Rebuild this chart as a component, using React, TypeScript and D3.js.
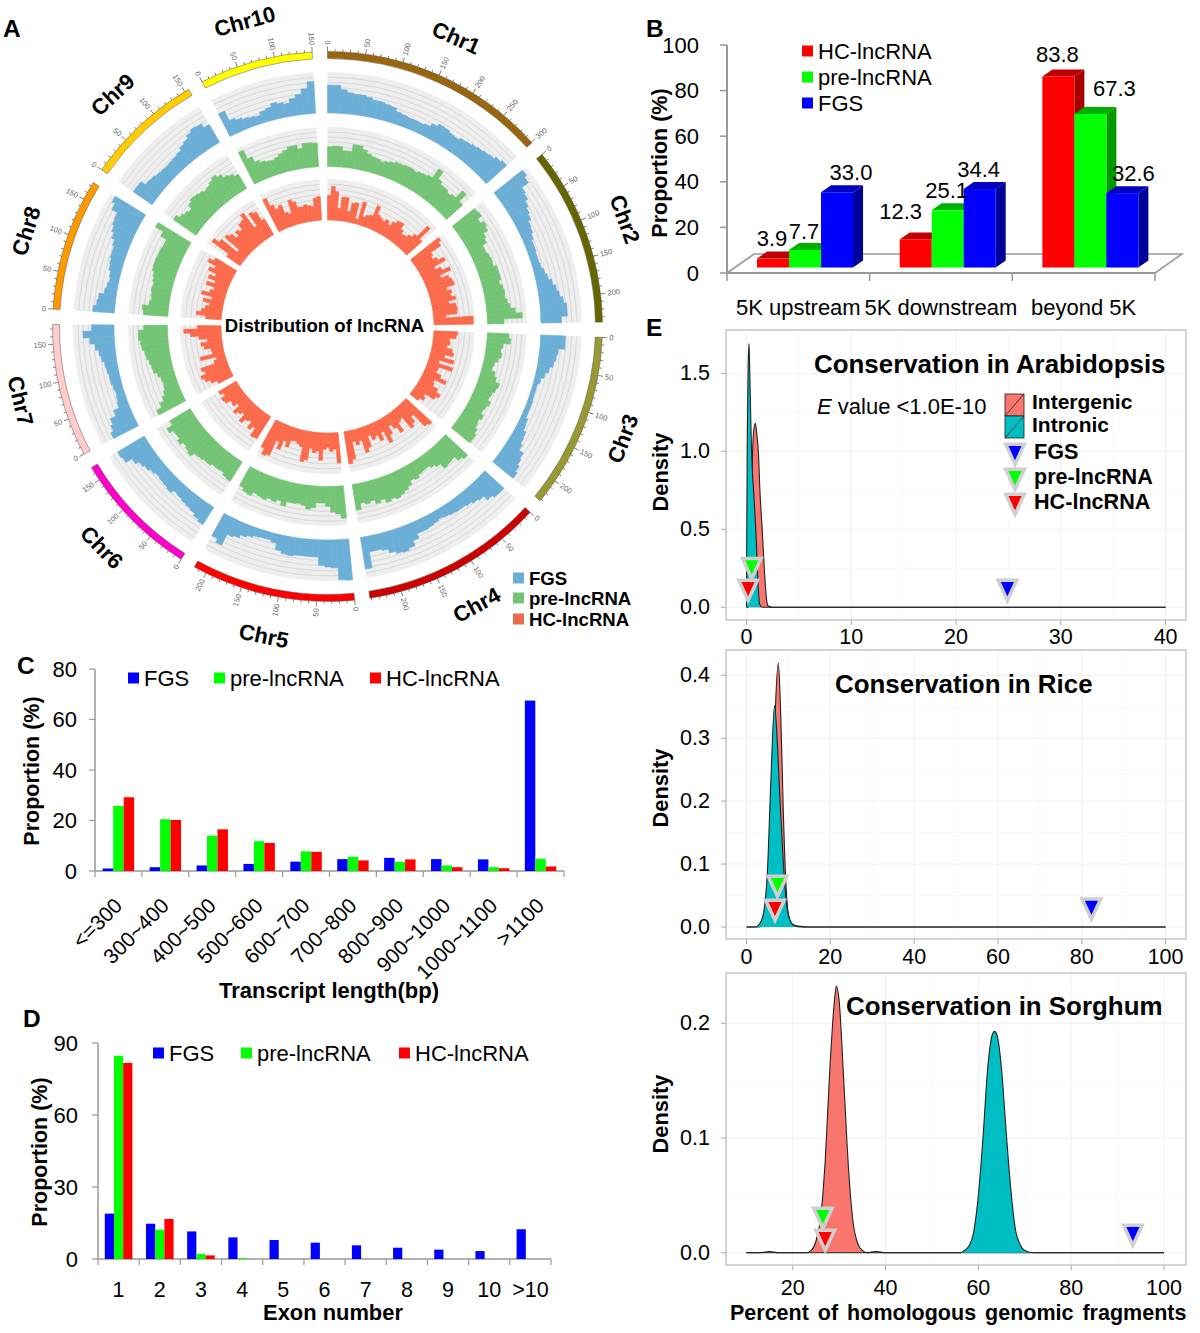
import { arc, area, curveMonotoneX, line, range, scaleBand, scaleLinear, sum, symbol, symbolTriangle } from 'd3'

const FONT = '"Liberation Sans", Arial, sans-serif'

// panel A, circos
const chrNames = ['Chr1', 'Chr2', 'Chr3', 'Chr4', 'Chr5', 'Chr6', 'Chr7', 'Chr8', 'Chr9', 'Chr10']
const chrLengths = [301, 237, 232, 242, 217, 169, 176, 175, 156, 150]
const chrColors = ['#99660f', '#666600', '#999933', '#cc0000', '#ff0000', '#ff00cc', '#ffcccc', '#ff9900', '#ffcc00', '#ffff00']

const fgsBins = [
  [.68, .68, .58, .52, .5, .5, .47, .43, .43, .40, .38, .3, .28, .26, .26, .25, .28, .36, .43, .42, .38, .36, .42, .44, .47, .5, .53, .56, .62, .67],
  [.89, .82, .62, .58, .5, .44, .4, .32, .3, .25, .2, .2, .18, .18, .2, .25, .3, .38, .45, .5, .58, .65, .65, .5],
  [.6, .6, .45, .42, .38, .3, .22, .15, .1, .1, .1, .12, .12, .12, .18, .2, .28, .3, .35, .48, .52, .58, .64],
  [.63, .62, .55, .42, .38, .33, .3, .3, .28, .25, .22, .25, .28, .3, .3, .42, .55, .6, .58, .52, .42, .38, .38, .78],
  [1.0, .98, .68, .66, .62, .42, .42, .42, .42, .45, .44, .38, .22, .18, .18, .2, .25, .3, .38, .42, .72, .62],
  [.5, .45, .38, .35, .33, .3, .28, .36, .33, .32, .3, .34, .4, .45, .55, .72, .76],
  [.68, .6, .55, .4, .25, .22, .2, .22, .25, .25, .28, .3, .36, .4, .48, .6, .76, .55],
  [.53, .45, .42, .3, .26, .22, .25, .3, .32, .35, .35, .4, .48, .55, .6, .62, .78, .86],
  [.56, .55, .42, .4, .36, .34, .33, .34, .35, .38, .45, .5, .58, .64, .62, .5],
  [.62, .35, .3, .25, .22, .2, .28, .32, .4, .36, .32, .42, .5, .62, .78],
]
const preBins = [
  [.5, .52, .52, .42, .42, .6, .6, .52, .44, .4, .38, .34, .38, .42, .46, .46, .48, .48, .46, .5, .52, .56, .84, .62, .55, .55, .5, .55, .8, .55],
  [.72, .75, .62, .72, .68, .55, .5, .38, .38, .42, .44, .42, .5, .5, .5, .44, .5, .52, .5, .55, .6, .72, .89, .42],
  [.55, .6, .42, .38, .42, .35, .28, .25, .35, .42, .54, .5, .45, .42, .5, .45, .42, .5, .45, .48, .55, .6, .6],
  [.76, .7, .56, .58, .6, .45, .38, .32, .33, .35, .42, .38, .48, .55, .6, .65, .6, .65, .55, .6, .5, .55, .5, .66],
  [.82, .7, .65, .5, .42, .42, .55, .6, .52, .48, .5, .5, .62, .52, .58, .55, .6, .58, .55, .65, .62, .55],
  [.58, .55, .48, .5, .5, .55, .55, .58, .6, .72, .68, .64, .72, .65, .66, .77, .6],
  [.77, .62, .5, .42, .36, .34, .36, .42, .5, .52, .55, .6, .62, .68, .7, .74, .74, .6],
  [.62, .66, .5, .46, .48, .5, .48, .52, .55, .6, .62, .62, .6, .6, .58, .58, .75, .98],
  [.7, .6, .55, .5, .62, .68, .66, .62, .58, .6, .66, .72, .65, .55, .5, .42],
  [.9, .65, .5, .44, .4, .38, .42, .48, .54, .6, .6, .5, .62, .62, .6],
]
const hcBins = [
  [.6, .82, .7, .3, .58, .58, .25, .47, .5, .12, .57, .22, .28, .32, .59, .4, .35, .32, .38, .3, .42, .5, .52, .38, .3, .32, .4, .5, .86, .5],
  [.87, .8, .5, .45, .55, .7, .38, .52, .71, .42, .6, .65, .67, .45, .55, .5, .6, .42, .58, .6, .58, .3, .96, .96],
  [.58, .55, .4, .42, .35, .5, .55, .35, .6, .25, .62, .3, .28, .42, .6, .32, .35, .5, .62, .55, .3, .35, .25],
  [.85, .8, .4, .55, .62, .28, .32, .55, .38, .25, .45, .62, .3, .48, .32, .38, .25, .52, .62, .3, .38, .28, .7, .8],
  [.74, .4, .45, .35, .4, .67, .45, .5, .4, .7, .75, .4, .35, .3, .32, .5, .38, .62, .45, .85, .9, .75],
  [.64, .66, .45, .55, .38, .42, .55, .35, .42, .5, .3, .4, .38, .5, .53, .42, .5],
  [.4, .55, .66, .72, .58, .66, .3, .22, .6, .28, .3, .45, .52, .35, .55, .75, .91, .58],
  [.38, .62, .5, .42, .32, .5, .3, .58, .4, .32, .54, .35, .55, .4, .62, .5, .72, .6],
  [.4, .9, .75, .25, .72, .65, .5, .62, .55, .7, .72, .85, .4, .75, .7, .45],
  [.87, .65, .52, .58, .35, .3, .62, .55, .4, .38, .42, .38, .35, .55, .58],
]

// panel B
const bCategories = ['5K upstream', '5K downstream', 'beyond 5K']
const bSeries = ['HC-lncRNA', 'pre-lncRNA', 'FGS']
const bValues = [
  [3.9, 12.3, 83.8],
  [7.7, 25.1, 67.3],
  [33.0, 34.4, 32.6],
]
const bLabels = [
  ['3.9', '12.3', '83.8'],
  ['7.7', '25.1', '67.3'],
  ['33.0', '34.4', '32.6'],
]

// panel C
const cCategories = ['<=300', '300~400', '400~500', '500~600', '600~700', '700~800', '800~900', '900~1000', '1000~1100', '>1100']
const cFgs = [1, 1.5, 2.2, 2.8, 3.7, 4.7, 5.2, 4.7, 4.6, 67.5]
const cPre = [25.8, 20.5, 14, 11.8, 7.8, 5.6, 3.6, 2.2, 1.5, 4.8]
const cHc = [29.2, 20.2, 16.5, 11.1, 7.6, 4.2, 4.6, 1.5, 1.1, 1.8]

// panel D
const dCategories = ['1', '2', '3', '4', '5', '6', '7', '8', '9', '10', '>10']
const dFgs = [18.9, 14.7, 11.5, 9, 7.9, 6.8, 5.7, 4.7, 3.9, 3.3, 12.4]
const dPre = [84.7, 12.2, 2.1, 0.4, 0, 0, 0, 0, 0, 0, 0]
const dHc = [81.7, 16.7, 1.5, 0, 0, 0, 0, 0, 0, 0, 0]

// panel E, density curves as [x, density]
const arabIntergenic = [[0, 0], [.2, 0], [.4, .3], [.58, 1.0], [.72, 1.15], [.85, 1.18], [1, 1.1], [1.13, 1.0], [1.3, .72], [1.5, .5], [1.7, .25], [1.9, .06], [2.05, .01], [2.5, 0], [40, 0]]
const arabIntronic = [[0, 0], [.02, .4], [.08, 1.1], [.16, 1.55], [.24, 1.69], [.33, 1.45], [.48, 1.0], [.7, .72], [.92, .45], [1.1, .15], [1.26, .02], [1.5, 0], [40, 0]]
const riceIntergenic = [[0, 0], [3, 0], [4, .003], [5, .02], [6, .12], [6.8, .33], [7.6, .42], [8.2, .33], [8.8, .18], [9.4, .07], [10, .02], [11, .004], [13, .001], [15, 0], [100, 0]]
const riceIntronic = [[0, 0], [2, 0], [3, .004], [4, .02], [5, .09], [5.8, .23], [6.7, .352], [7.3, .3], [8, .2], [8.8, .1], [9.5, .04], [10.3, .012], [11.5, .002], [13, 0], [100, 0]]
const sorghumIntergenic = [[10, 0], [13, 0], [15, .001], [17, 0], [23, 0], [24, .002], [25, .01], [26, .03], [27, .08], [28, .16], [29, .22], [29.4, .2325], [30, .22], [31, .15], [32, .075], [33, .027], [34, .008], [35, .002], [36, 0], [38, .001], [40, 0], [100, 0]]
const sorghumIntronic = [[10, 0], [56, 0], [57, .002], [58, .006], [59, .018], [60, .05], [61, .1], [62, .16], [63, .19], [63.5, .193], [64, .19], [65, .16], [66, .105], [67, .055], [68, .02], [69, .007], [70, .002], [72, 0], [100, 0]]

const markerNames = ['HC-lncRNA', 'pre-lncRNA', 'FGS']
const arabMarkers = [[.15, .13], [.5, .27], [24.9, .13]]
const riceMarkers = [[6.8, .032], [7.4, .07], [82.3, .034]]
const sorghumMarkers = [[27, .0137], [26.5, .033], [93.3, .018]]

const RED = '#ff0000'
const GREEN = '#00ff00'
const BLUE = '#0000ff'
const markerColors = [RED, GREEN, BLUE]
const AXIS = '#999999'
const TEAL = '#00bfc4'
const SALMON = '#f8766d'

const PanelLetter = ({ x, y, t }: { x: number; y: number; t: string }) => (
  <text x={x} y={y} fontSize={24.5} fontWeight="bold" fill="#000">{t}</text>
)

const Circos = () => {
  const cx = 327.5
  const cy = 326.5
  const toRad = Math.PI / 180
  const gap = 3.2 * toRad
  const unit = (2 * Math.PI - gap * chrLengths.length) / sum(chrLengths)
  let cursor = 0
  const chroms = chrLengths.map((len, i) => {
    const start = cursor
    const end = start + len * unit
    cursor = end + gap
    return { i, len, start, end, angle: scaleLinear([0, len], [start, end]) }
  })
  const tracks = [
    { bins: fgsBins, inner: 213.5, outer: 254.5, color: '#6baed6' },
    { bins: preBins, inner: 160, outer: 199.5, color: '#74c476' },
    { bins: hcBins, inner: 106.5, outer: 147.5, color: '#fb6a4a' },
  ]
  const arcGen = arc<any>()
  const legend = [['FGS', '#6baed6'], ['pre-lncRNA', '#74c476'], ['HC-lncRNA', '#ea6a50']]
  return (
    <g>
      <g transform={`translate(${cx},${cy})`}>
        {tracks.map((tr, t) => {
          const rad = scaleLinear([0, 1], [tr.inner, tr.outer])
          return chroms.map((c) => (
            <g key={`${t}-${c.i}`}>
              <path
                d={arcGen({ innerRadius: tr.inner, outerRadius: tr.outer, startAngle: c.start, endAngle: c.end }) as string}
                fill="#eeeeee"
              />
              {range(1, 8).map((k) => (
                <path
                  key={k}
                  d={arcGen({ innerRadius: rad(k / 8), outerRadius: rad(k / 8), startAngle: c.start, endAngle: c.end }) as string}
                  fill="none"
                  stroke="#d8d8d8"
                  strokeWidth={0.7}
                />
              ))}
              {tr.bins[c.i].map((v, b) => {
                const span = c.len / tr.bins[c.i].length
                return (
                  <path
                    key={b}
                    d={arcGen({ innerRadius: tr.inner, outerRadius: rad(v), startAngle: c.angle(b * span), endAngle: c.angle((b + 1) * span) }) as string}
                    fill={tr.color}
                    stroke={tr.color}
                    strokeWidth={0.6}
                  />
                )
              })}
            </g>
          ))
        })}
        {chroms.map((c) => {
          const ticks = range(0, c.len + 1, 10)
          const mid = ((c.start + c.end) / 2) / toRad
          const labelRotate = mid > 90 && mid < 270 ? mid - 180 : mid
          const lx = 316 * Math.sin(mid * toRad)
          const ly = -316 * Math.cos(mid * toRad)
          return (
            <g key={c.i}>
              <path
                d={arcGen({ innerRadius: 268, outerRadius: 275, startAngle: c.start, endAngle: c.end }) as string}
                fill={chrColors[c.i]}
                stroke="#555"
                strokeWidth={0.5}
              />
              {ticks.map((tk) => {
                const deg = c.angle(tk) / toRad
                const major = tk % 50 === 0
                return (
                  <g key={tk} transform={`rotate(${deg})`}>
                    <line y1={-275} y2={major ? -280 : -277.5} stroke="#555" strokeWidth={0.7} />
                    {major && (
                      <text
                        transform={deg < 180 ? `translate(0,-282) rotate(-90)` : `translate(0,-282) rotate(90)`}
                        textAnchor={deg < 180 ? 'start' : 'end'}
                        dominantBaseline="central"
                        fontSize={7.5}
                        fill="#666"
                      >
                        {tk}
                      </text>
                    )}
                  </g>
                )
              })}
              <text
                transform={`translate(${lx},${ly}) rotate(${labelRotate})`}
                textAnchor="middle"
                dominantBaseline="central"
                fontSize={22}
                fontWeight="bold"
                fill="#000"
              >
                {chrNames[c.i]}
              </text>
            </g>
          )
        })}
        <text x={-3} y={-1.5} textAnchor="middle" dominantBaseline="central" fontSize={18.6} fontWeight="bold" fill="#000">
          Distribution of lncRNA
        </text>
      </g>
      {legend.map(([name, col], i) => (
        <g key={name} transform={`translate(513,${[578, 598, 619][i]})`}>
          <rect x={0} y={-5.5} width={11} height={11} fill={col} />
          <text x={16} y={0} dominantBaseline="central" fontSize={18.6} fontWeight="bold" fill="#000">{name}</text>
        </g>
      ))}
    </g>
  )
}

const Bars3D = () => {
  const x0 = scaleBand(bCategories, [727, 1155]).paddingInner(0.327).paddingOuter(0.1635)
  const x1 = scaleBand(bSeries, [0, x0.bandwidth()])
  const y = scaleLinear([0, 100], [273, 45])
  const frontColors = [RED, GREEN, BLUE]
  const topColors = ['#c00000', '#00b000', '#0000c0']
  const sideColors = ['#a80000', '#009a00', '#00009a']
  const shift = 6.7
  const floorDy = 5.5
  const dx = 10
  const dy = 7
  const floorBack = 254
  const floorSkew = 27
  const labelNudge = [
    [[-1, -20], [-15, -27.5], [-1, -21.5]],
    [[-1, -18], [-1, -20], [24, -26]],
    [[14, -20], [-1, -20], [11, -20]],
  ]
  return (
    <g>
      <path
        d={`M${x0.range()[0]},${y(0)}L${x0.range()[0] + floorSkew},${floorBack}L${x0.range()[1] + floorSkew},${floorBack}L${x0.range()[1]},${y(0)}`}
        fill="none"
        stroke={AXIS}
        strokeWidth={1.6}
      />
      <line x1={x0.range()[0]} x2={x0.range()[0]} y1={y(100)} y2={y(0)} stroke={AXIS} strokeWidth={2} />
      <line x1={x0.range()[0]} x2={x0.range()[1]} y1={y(0)} y2={y(0)} stroke={AXIS} strokeWidth={2} />
      {y.ticks(5).map((t) => (
        <g key={t}>
          <line x1={x0.range()[0] - 7} x2={x0.range()[0]} y1={y(t)} y2={y(t)} stroke={AXIS} strokeWidth={1.5} />
          <text x={699} y={y(t)} textAnchor="end" dominantBaseline="central" fontSize={22}>{t}</text>
        </g>
      ))}
      {range(0, bCategories.length + 1).map((k) => {
        const tx = x0.range()[0] + (k * (x0.range()[1] - x0.range()[0])) / bCategories.length
        return <line key={k} x1={tx} x2={tx} y1={y(0)} y2={y(0) + 8} stroke={AXIS} strokeWidth={1.5} />
      })}
      {bCategories.map((c) => (
        <text key={c} x={(x0(c) as number) + x0.bandwidth() / 2} y={307} textAnchor="middle" dominantBaseline="central" fontSize={22}>
          {c}
        </text>
      ))}
      {bSeries.map((s, si) =>
        bCategories.map((c, ci) => {
          const v = bValues[si][ci]
          const left = (x0(c) as number) + (x1(s) as number) + shift
          const w = x1.bandwidth()
          const bottom = y(0) - floorDy
          const top = y(v) - floorDy
          return (
            <g key={s + c}>
              <path d={`M${left},${top}L${left + dx},${top - dy}L${left + w + dx},${top - dy}L${left + w},${top}Z`} fill={topColors[si]} />
              <path d={`M${left + w},${top}L${left + w + dx},${top - dy}L${left + w + dx},${bottom - dy}L${left + w},${bottom}Z`} fill={sideColors[si]} />
              <rect x={left} y={top} width={w} height={bottom - top} fill={frontColors[si]} />
            </g>
          )
        }),
      )}
      {bSeries.map((s, si) =>
        bCategories.map((c, ci) => {
          const left = (x0(c) as number) + (x1(s) as number) + shift
          const [nx, ny] = labelNudge[si][ci]
          return (
            <text
              key={s + c}
              x={left + x1.bandwidth() / 2 + nx}
              y={y(bValues[si][ci]) - floorDy + ny}
              textAnchor="middle"
              dominantBaseline="central"
              fontSize={22}
            >
              {bLabels[si][ci]}
            </text>
          )
        }),
      )}
      {bSeries.map((s, i) => (
        <g key={s} transform={`translate(802,${51 + i * 26})`}>
          <rect x={0} y={-5.5} width={11} height={11} fill={frontColors[i]} />
          <text x={16} y={0} dominantBaseline="central" fontSize={22}>{s}</text>
        </g>
      ))}
      <text transform="translate(660,163) rotate(-90)" textAnchor="middle" dominantBaseline="central" fontSize={21.5} fontWeight="bold">
        Proportion (%)
      </text>
    </g>
  )
}

interface GroupedProps {
  categories: string[]
  values: number[][]
  xRange: [number, number]
  yRange: [number, number]
  yMax: number
  yStep: number
  legendX: number[]
  legendY: number
  tickLabelX: number
  rotated: boolean
}

const groupNames = ['FGS', 'pre-lncRNA', 'HC-lncRNA']

const GroupedBars = ({ categories, values, xRange, yRange, yMax, yStep, legendX, legendY, tickLabelX, rotated }: GroupedProps) => {
  const x0 = scaleBand(categories, xRange).paddingInner(0.33).paddingOuter(0.165)
  const x1 = scaleBand(groupNames, [0, x0.bandwidth()])
  const y = scaleLinear([0, yMax], yRange)
  const colors = [BLUE, GREEN, RED]
  const step = (xRange[1] - xRange[0]) / categories.length
  return (
    <g>
      <line x1={xRange[0]} x2={xRange[0]} y1={y(yMax)} y2={y(0)} stroke={AXIS} strokeWidth={1.5} />
      <line x1={xRange[0]} x2={xRange[1]} y1={y(0)} y2={y(0)} stroke={AXIS} strokeWidth={1.5} />
      {range(0, yMax + 1, yStep).map((t) => (
        <g key={t}>
          <line x1={xRange[0] - 6} x2={xRange[0]} y1={y(t)} y2={y(t)} stroke={AXIS} strokeWidth={1.2} />
          <text x={tickLabelX} y={y(t)} textAnchor="end" dominantBaseline="central" fontSize={22}>{t}</text>
        </g>
      ))}
      {range(0, categories.length + 1).map((k) => (
        <line key={k} x1={xRange[0] + k * step} x2={xRange[0] + k * step} y1={y(0)} y2={y(0) + 6} stroke={AXIS} strokeWidth={1.2} />
      ))}
      {groupNames.map((g, gi) =>
        categories.map((c, ci) => (
          <rect
            key={g + c}
            x={(x0(c) as number) + (x1(g) as number)}
            y={y(values[gi][ci])}
            width={x1.bandwidth()}
            height={y(0) - y(values[gi][ci])}
            fill={colors[gi]}
          />
        )),
      )}
      {categories.map((c) => {
        const cxx = (x0(c) as number) + x0.bandwidth() / 2
        return rotated ? (
          <text key={c} transform={`translate(${cxx + 5},${y(0) + 36}) rotate(-45)`} textAnchor="end" fontSize={21}>{c}</text>
        ) : (
          <text key={c} x={cxx} y={y(0) + 31} textAnchor="middle" dominantBaseline="central" fontSize={21.5}>{c}</text>
        )
      })}
      {groupNames.map((g, i) => (
        <g key={g} transform={`translate(${legendX[i]},${legendY})`}>
          <rect x={0} y={-5.5} width={11} height={11} fill={colors[i]} />
          <text x={16} y={0} dominantBaseline="central" fontSize={22}>{g}</text>
        </g>
      ))}
    </g>
  )
}

interface DensityProps {
  intergenic: number[][]
  intronic: number[][]
  markers: number[][]
  title: string
  titleX: number
  titleY: number
  box: [number, number, number, number]
  xDomain: [number, number]
  xRange: [number, number]
  xTicks: number[]
  xMinor: number[]
  yDomain: [number, number]
  yRange: [number, number]
  yTicks: number[]
  yFormat: (v: number) => string
  yMinor: number[]
  labelY: number
  densityY: number
}

const triangle = symbol(symbolTriangle, 150)()

const Marker = ({ x, y, color, stroke = '#cfcfcf' }: { x: number; y: number; color: string; stroke?: string }) => (
  <path
    d={triangle as string}
    transform={`translate(${x},${y}) scale(1,-1.25)`}
    fill={color}
    stroke={stroke}
    strokeWidth={3.5}
    vectorEffect="non-scaling-stroke"
  />
)

const Density = ({
  intergenic, intronic, markers, title, titleX, titleY, box, xDomain, xRange, xTicks, xMinor, yDomain, yRange, yTicks, yFormat, yMinor, labelY, densityY,
}: DensityProps) => {
  const x = scaleLinear(xDomain, xRange)
  const y = scaleLinear(yDomain, yRange)
  const [bx0, by0, bx1, by1] = box
  const areaGen = area<number[]>().x((d) => x(d[0])).y0(y(0)).y1((d) => y(d[1])).curve(curveMonotoneX)
  const lineGen = line<number[]>().x((d) => x(d[0])).y((d) => y(d[1])).curve(curveMonotoneX)
  return (
    <g>
      {xMinor.map((t) => <line key={t} x1={x(t)} x2={x(t)} y1={by0} y2={by1} stroke="#f8f8f8" />)}
      {yMinor.map((t) => <line key={t} x1={bx0} x2={bx1} y1={y(t)} y2={y(t)} stroke="#f8f8f8" />)}
      {xTicks.map((t) => <line key={t} x1={x(t)} x2={x(t)} y1={by0} y2={by1} stroke="#f0f0f0" />)}
      {yTicks.map((t) => <line key={t} x1={bx0} x2={bx1} y1={y(t)} y2={y(t)} stroke="#f0f0f0" />)}
      <rect x={bx0} y={by0} width={bx1 - bx0} height={by1 - by0} fill="none" stroke="#c8c8c8" strokeWidth={1.5} />
      {xTicks.map((t) => (
        <g key={t}>
          <line x1={x(t)} x2={x(t)} y1={by1} y2={by1 + 5} stroke="#aaa" />
          <text x={x(t)} y={labelY} textAnchor="middle" dominantBaseline="central" fontSize={21.5}>{t}</text>
        </g>
      ))}
      {yTicks.map((t) => (
        <g key={t}>
          <line x1={bx0 - 5} x2={bx0} y1={y(t)} y2={y(t)} stroke="#aaa" />
          <text x={710} y={y(t)} textAnchor="end" dominantBaseline="central" fontSize={21.5}>{yFormat(t)}</text>
        </g>
      ))}
      <path d={areaGen(intergenic) as string} fill={SALMON} />
      <path d={lineGen(intergenic) as string} fill="none" stroke="#222" strokeWidth={1.1} />
      <path d={areaGen(intronic) as string} fill={TEAL} />
      <path d={lineGen(intronic) as string} fill="none" stroke="#222" strokeWidth={1.1} />
      {markers.map(([mx, my], i) => (
        <Marker key={i} x={x(mx)} y={y(my)} color={markerColors[i]} />
      ))}
      <text x={titleX} y={titleY} dominantBaseline="central" fontSize={25.9} fontWeight="bold">{title}</text>
      <text transform={`translate(660,${densityY}) rotate(-90)`} textAnchor="middle" dominantBaseline="central" fontSize={21.8} fontWeight="bold">
        Density
      </text>
    </g>
  )
}

const ArabidopsisLegend = () => (
  <g>
    <text x={817} y={414} fontSize={22}>
      <tspan fontStyle="italic">E</tspan> value &lt;1.0E-10
    </text>
    {[SALMON, TEAL].map((c, i) => (
      <g key={c} transform={`translate(1005,${394 + i * 22})`}>
        <rect width={19} height={22} fill={c} stroke="#222" strokeWidth={0.8} />
        <line x1={0} y1={22} x2={19} y2={0} stroke="#222" strokeWidth={0.8} />
      </g>
    ))}
    <text x={1032} y={401} dominantBaseline="central" fontSize={21} fontWeight="bold">Intergenic</text>
    <text x={1032} y={424} dominantBaseline="central" fontSize={21} fontWeight="bold">Intronic</text>
    {[...markerNames].reverse().map((m, i) => (
      <g key={m}>
        <Marker x={1015} y={451 + i * 25} color={[BLUE, GREEN, RED][i]} />
        <text x={1034} y={451 + i * 25} dominantBaseline="central" fontSize={21.6} fontWeight="bold">{m}</text>
      </g>
    ))}
  </g>
)

export default function App() {
  return (
    <svg
      width={1200}
      height={1333}
      viewBox="0 0 1200 1333"
      style={{ position: 'absolute', left: 0, top: 0, background: '#fff', fontFamily: FONT }}
    >
      <PanelLetter x={3} y={37} t="A" />
      <PanelLetter x={646} y={37} t="B" />
      <PanelLetter x={17} y={674} t="C" />
      <PanelLetter x={23} y={1027} t="D" />
      <PanelLetter x={646} y={336} t="E" />
      <Circos />
      <Bars3D />
      <GroupedBars
        categories={cCategories}
        values={[cFgs, cPre, cHc]}
        xRange={[95, 564]}
        yRange={[871, 669]}
        yMax={80}
        yStep={20}
        legendX={[128, 214, 370]}
        legendY={678}
        tickLabelX={77}
        rotated
      />
      <text transform="translate(32,771) rotate(-90)" textAnchor="middle" dominantBaseline="central" fontSize={21.5} fontWeight="bold">
        Proportion (%)
      </text>
      <text x={329} y={990} textAnchor="middle" dominantBaseline="central" fontSize={22} fontWeight="bold">Transcript length(bp)</text>
      <GroupedBars
        categories={dCategories}
        values={[dFgs, dPre, dHc]}
        xRange={[98, 551]}
        yRange={[1259, 1043]}
        yMax={90}
        yStep={30}
        legendX={[153, 241, 399]}
        legendY={1053}
        tickLabelX={78}
        rotated={false}
      />
      <text transform="translate(40,1152) rotate(-90)" textAnchor="middle" dominantBaseline="central" fontSize={21.5} fontWeight="bold">
        Proportion (%)
      </text>
      <text x={333} y={1312} textAnchor="middle" dominantBaseline="central" fontSize={21.9} fontWeight="bold">Exon number</text>
      <Density
        intergenic={arabIntergenic}
        intronic={arabIntronic}
        markers={arabMarkers}
        title="Conservation in Arabidopsis"
        titleX={814}
        titleY={364}
        box={[726, 330, 1186, 620]}
        xDomain={[0, 40]}
        xRange={[746.5, 1165.6]}
        xTicks={[0, 10, 20, 30, 40]}
        xMinor={[5, 15, 25, 35]}
        yDomain={[0, 1.5]}
        yRange={[607.3, 373.3]}
        yTicks={[0, 0.5, 1, 1.5]}
        yFormat={(v) => v.toFixed(1)}
        yMinor={[0.25, 0.75, 1.25]}
        labelY={637}
        densityY={472}
      />
      <ArabidopsisLegend />
      <Density
        intergenic={riceIntergenic}
        intronic={riceIntronic}
        markers={riceMarkers}
        title="Conservation in Rice"
        titleX={835}
        titleY={684}
        box={[726, 650, 1186, 939]}
        xDomain={[0, 100]}
        xRange={[746.5, 1165.6]}
        xTicks={[0, 20, 40, 60, 80, 100]}
        xMinor={[10, 30, 50, 70, 90]}
        yDomain={[0, 0.4]}
        yRange={[927, 675.3]}
        yTicks={[0, 0.1, 0.2, 0.3, 0.4]}
        yFormat={(v) => v.toFixed(1)}
        yMinor={[0.05, 0.15, 0.25, 0.35]}
        labelY={957}
        densityY={788}
      />
      <Density
        intergenic={sorghumIntergenic}
        intronic={sorghumIntronic}
        markers={sorghumMarkers}
        title="Conservation in Sorghum"
        titleX={846}
        titleY={1006}
        box={[726, 973, 1186, 1265]}
        xDomain={[20, 100]}
        xRange={[792.7, 1164]}
        xTicks={[20, 40, 60, 80, 100]}
        xMinor={[30, 50, 70, 90]}
        yDomain={[0, 0.2]}
        yRange={[1252.7, 1023.3]}
        yTicks={[0, 0.1, 0.2]}
        yFormat={(v) => v.toFixed(1)}
        yMinor={[0.05, 0.15]}
        labelY={1288}
        densityY={1114}
      />
      <text x={730} y={1313} dominantBaseline="central" fontSize={21.5} fontWeight="bold" wordSpacing={3}>
        Percent of homologous genomic fragments
      </text>
    </svg>
  )
}
